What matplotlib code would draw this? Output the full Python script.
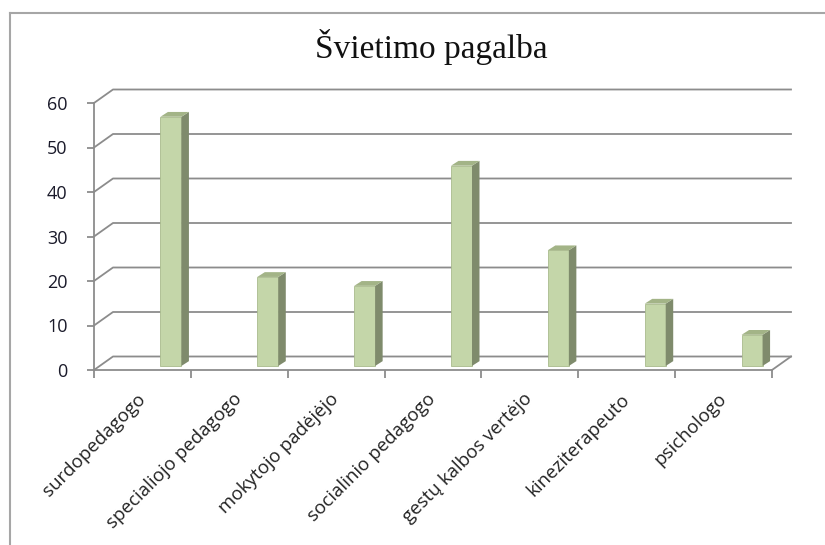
import matplotlib
matplotlib.use("Agg")
import matplotlib.pyplot as plt
from matplotlib.patches import Polygon
from matplotlib.lines import Line2D

categories = ["surdopedagogo", "specialiojo pedagogo", "mokytojo padėjėjo",
              "socialinio pedagogo", "gestų kalbos vertėjo", "kineziterapeuto",
              "psichologo"]
values = [56, 20, 18, 45, 26, 14, 7]
yticks = [0, 10, 20, 30, 40, 50, 60]
title = "Švietimo pagalba"

W, H = 825, 545
fig = plt.figure(figsize=(W / 100, H / 100), dpi=100)

# front plane in pixels
x0p, x1p = 94, 772
y0p, y1p = 370, 103
ax = fig.add_axes([x0p / W, (H - y0p) / H, (x1p - x0p) / W, (y0p - y1p) / H])
n = len(categories)
ax.set_xlim(-0.5, n - 0.5)
ax.set_ylim(0, 60)
ax.patch.set_visible(False)

pxx = (x1p - x0p) / n          # px per category
pxy = (y0p - y1p) / 60.0       # px per unit
DX = 19 / pxx                  # wall depth offset (data units)
DY = 13.5 / pxy

grid_c = "#8c8c8c"
lw = 1.3
xl, xr = -0.5, n - 0.5
for k in yticks:
    ax.add_line(Line2D([xl, xl + DX, xr + DX], [k, k + DY, k + DY],
                       color=grid_c, lw=lw, clip_on=False, zorder=1))
# floor right edge
ax.add_line(Line2D([xr, xr + DX], [0, DY], color=grid_c, lw=lw, clip_on=False, zorder=1))

for s in ["top", "right"]:
    ax.spines[s].set_visible(False)
for s in ["left", "bottom"]:
    ax.spines[s].set_color(grid_c)
    ax.spines[s].set_linewidth(lw)
    ax.spines[s].set_zorder(2)

font = "Open Sans"
ax.set_yticks(yticks)
ax.set_yticklabels([str(t) for t in yticks], fontfamily=font, fontsize=13, color="#1a1a2a")
ax.tick_params(axis="y", length=5, width=lw, color=grid_c, pad=14)

centers = list(range(n))
ax.set_xticks(centers)
ax.set_xticklabels(categories, rotation=45, ha="right", va="center",
                   rotation_mode="anchor", fontfamily=font, fontsize=13.5, color="#222222")
ax.tick_params(axis="x", which="major", length=0, pad=19)
ax.set_xticks([c - 0.5 for c in centers] + [n - 0.5], minor=True)
ax.tick_params(axis="x", which="minor", length=6, width=lw, color=grid_c)

# 3D-look bars
f = 0.30
base = f * DY
shift = 28.5 / pxx
bw = 21 / pxx
bdx = 7.5 / pxx
bdy = 4.8 / pxy
front_c = "#c4d6a9"
side_c = "#7f8b6c"
top_c = "#a3b487"
xs = [c + shift for c in centers]
ax.bar(xs, values, width=bw, bottom=base, color=front_c, edgecolor="#a9bb8d",
       linewidth=0.6, zorder=3)
for x, v in zip(xs, values):
    left = x - bw / 2
    right = x + bw / 2
    top = base + v
    ax.add_patch(Polygon([(right, base), (right + bdx, base + bdy),
                          (right + bdx, top + bdy), (right, top)],
                         closed=True, facecolor=side_c, edgecolor="none", zorder=3))
    ax.add_patch(Polygon([(left, top), (right, top), (right + bdx, top + bdy),
                          (left + bdx, top + bdy)],
                         closed=True, facecolor=top_c, edgecolor="none", zorder=3))

# title
fig.text(431 / W, (H - 58) / H, title, ha="center", va="baseline",
         fontfamily="Liberation Serif", fontsize=24, color="#111111")

# outer border (top and left visible)
fig.add_artist(Line2D([10 / W, 1.0], [(H - 13) / H, (H - 13) / H],
                      transform=fig.transFigure, color="#a6a6a6", lw=1.5))
fig.add_artist(Line2D([10 / W, 10 / W], [(H - 13) / H, 0],
                      transform=fig.transFigure, color="#a6a6a6", lw=1.5))

fig.savefig("out.png", dpi=100)
